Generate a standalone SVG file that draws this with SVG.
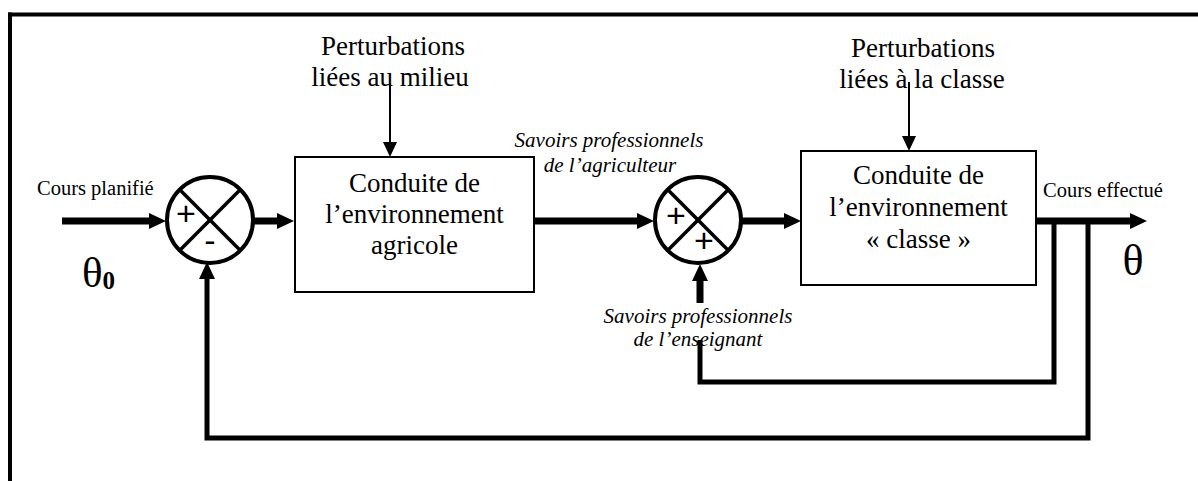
<svg xmlns="http://www.w3.org/2000/svg" width="1198" height="481" viewBox="0 0 1198 481">
<style>
  .serif{font-family:"Liberation Serif","Times New Roman",serif;fill:#000}
  .lbl{font-size:27px}
  .box{fill:#fff;stroke:#000;stroke-width:2}
  .sum{fill:#fff;stroke:#000;stroke-width:4}
  .cross{stroke:#000;stroke-width:3.5}
  .sign{font-family:"Liberation Sans",Arial,sans-serif;font-size:34px;fill:#000}
  .thick{fill:none;stroke:#000;stroke-width:7}
  .fb{fill:none;stroke:#000;stroke-width:5}
  .thin{fill:none;stroke:#000;stroke-width:2}
  .it{font-style:italic;font-size:21px}
  .small{font-size:20.5px}
</style>
<defs>
  <marker id="ah" markerUnits="userSpaceOnUse" markerWidth="17" markerHeight="18" refX="0" refY="9" orient="auto">
    <path d="M0,1 L17,9 L0,17 z" fill="#000"/>
  </marker>
  <marker id="ahs" markerUnits="userSpaceOnUse" markerWidth="16" markerHeight="16" refX="0" refY="8" orient="auto">
    <path d="M0,1 L15,8 L0,15 z" fill="#000"/>
  </marker>
</defs>
<rect width="1198" height="481" fill="#fff"/>
<g id="frame">
  <line x1="8" y1="14.5" x2="1198" y2="14.5" stroke="#000" stroke-width="4"/>
  <line x1="10" y1="12.5" x2="10" y2="481" stroke="#000" stroke-width="4"/>
</g>

<g id="connectors">
  <path class="thick" d="M62,221 H149" marker-end="url(#ah)"/>
  <path class="thick" d="M254,221 H277" marker-end="url(#ah)"/>
  <path class="thick" d="M534,221 H637" marker-end="url(#ah)"/>
  <path class="thick" d="M742,221 H784" marker-end="url(#ah)"/>
  <path class="thick" d="M1036,221 H1130" marker-end="url(#ah)"/>
  <path class="thin" d="M390,83 V142" marker-end="url(#ahs)"/>
  <path class="thin" d="M909,82 V136" marker-end="url(#ahs)"/>
  <path class="fb" d="M1054,221 V382 H700 V340"/>
  <path class="thick" d="M700,303 V281" marker-end="url(#ah)"/>
  <path class="fb" d="M1088,221 V438 H207 V279" marker-end="url(#ah)"/>
</g>

<g id="sum1">
  <circle class="sum" cx="210" cy="220" r="43"/>
  <line class="cross" x1="179.6" y1="189.6" x2="240.4" y2="250.4"/>
  <line class="cross" x1="240.4" y1="189.6" x2="179.6" y2="250.4"/>
  <text class="sign" x="186" y="225" text-anchor="middle">+</text>
  <text class="sign" x="210" y="252" text-anchor="middle">-</text>
</g>

<g id="sum2">
  <circle class="sum" cx="698" cy="220" r="43"/>
  <line class="cross" x1="667.6" y1="189.6" x2="728.4" y2="250.4"/>
  <line class="cross" x1="728.4" y1="189.6" x2="667.6" y2="250.4"/>
  <text class="sign" x="676" y="227" text-anchor="middle">+</text>
  <text class="sign" x="704" y="252" text-anchor="middle">+</text>
</g>

<g id="box1">
  <rect class="box" x="295" y="157" width="239" height="135"/>
  <text class="serif lbl" text-anchor="middle" x="414.5" y="192">Conduite de</text>
  <text class="serif lbl" text-anchor="middle" x="414.5" y="223">l’environnement</text>
  <text class="serif lbl" text-anchor="middle" x="414.5" y="254">agricole</text>
</g>

<g id="box2">
  <rect class="box" x="801" y="151" width="235" height="134"/>
  <text class="serif lbl" text-anchor="middle" x="918.5" y="184">Conduite de</text>
  <text class="serif lbl" text-anchor="middle" x="918.5" y="216">l’environnement</text>
  <text class="serif lbl" text-anchor="middle" x="918.5" y="248">« classe »</text>
</g>

<g id="pert1">
  <text class="serif lbl" text-anchor="middle" x="393" y="55">Perturbations</text>
  <text class="serif lbl" text-anchor="middle" x="390" y="86">liées au milieu</text>
</g>

<g id="pert2">
  <text class="serif lbl" text-anchor="middle" x="923" y="57">Perturbations</text>
  <text class="serif lbl" text-anchor="middle" x="922" y="88">liées à la classe</text>
</g>

<g id="input">
  <text class="serif small" x="37" y="195">Cours planifié</text>
  <text class="serif" x="82" y="287" font-size="43">θ<tspan font-size="25" font-weight="bold" dy="2">0</tspan></text>
</g>

<g id="output">
  <text class="serif small" x="1043" y="197">Cours effectué</text>
  <text class="serif" x="1133" y="275" font-size="44" text-anchor="middle">θ</text>
</g>

<g id="savoir-agri">
  <text class="serif it" text-anchor="middle" x="609" y="147">Savoirs professionnels</text>
  <text class="serif it" text-anchor="middle" x="610" y="172">de l’agriculteur</text>
</g>

<g id="savoir-ens">
  <text class="serif it" text-anchor="middle" x="698" y="323">Savoirs professionnels</text>
  <text class="serif it" text-anchor="middle" x="698" y="346">de l’enseignant</text>
</g>
</svg>
